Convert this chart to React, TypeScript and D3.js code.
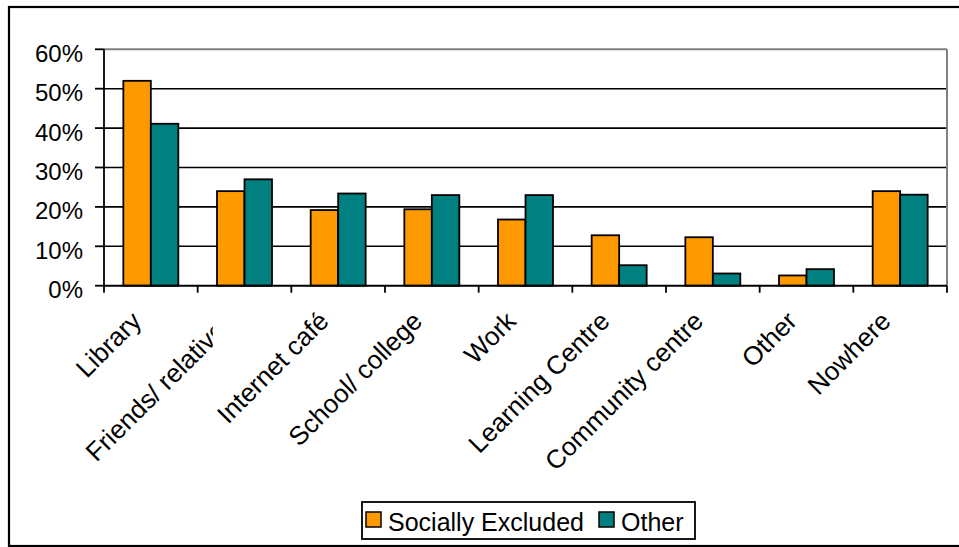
import React from "react";
import * as d3 from "d3";

// Where people accessed the internet, by group (share of respondents)
const categories = [
  "Library",
  "Friends/ relatives",
  "Internet café",
  "School/ college",
  "Work",
  "Learning Centre",
  "Community centre",
  "Other",
  "Nowhere",
];
const seriesNames = ["Socially Excluded", "Other"];
const sociallyExcluded = [0.52, 0.24, 0.192, 0.194, 0.168, 0.128, 0.123, 0.026, 0.24];
const otherGroup = [0.411, 0.27, 0.234, 0.23, 0.23, 0.052, 0.031, 0.042, 0.231];
const yTicks = [0, 0.1, 0.2, 0.3, 0.4, 0.5, 0.6];

const colors = ["#FF9900", "#008080"];
const FONT = "'Liberation Sans', Arial, Helvetica, sans-serif";

const W = 959;
const H = 547;
const plot = { left: 104, right: 947, top: 49.3, bottom: 285.7 };

export default function App() {
  const x0 = d3
    .scaleBand<string>()
    .domain(categories)
    .range([plot.left, plot.right])
    .paddingInner(0.413)
    .paddingOuter(0.2065);
  const x1 = d3
    .scaleBand<string>()
    .domain(seriesNames)
    .range([0, x0.bandwidth()]);
  const y = d3.scaleLinear().domain([0, 0.6]).range([plot.bottom, plot.top]);
  const fmt = d3.format(".0%");
  const step = x0.step();
  const values = [sociallyExcluded, otherGroup];

  const boundaries = d3.range(categories.length + 1).map((i) => plot.left + i * step);

  return (
    <svg
      width={W}
      height={H}
      viewBox={`0 0 ${W} ${H}`}
      style={{ position: "absolute", left: 0, top: 0, display: "block", background: "#fff" }}
      fontFamily={FONT}
    >
      <defs>
        {/* the long second label is cut off on its right side */}
        <clipPath id="label-clip-1">
          <rect x={0} y={0} width={x0(categories[1])! - step * 0.045} height={H} />
        </clipPath>
      </defs>

      {/* chart frame */}
      <rect x={9} y={7} width={960} height={539} fill="#fff" stroke="#000" strokeWidth={2.2} />

      {/* gridlines */}
      {yTicks.map((t) => (
        <line
          key={`g${t}`}
          x1={plot.left}
          x2={plot.right}
          y1={y(t)}
          y2={y(t)}
          stroke={t === 0.6 ? "#808080" : "#000"}
          strokeWidth={t === 0.6 ? 2 : 1.6}
        />
      ))}
      {/* plot area right border */}
      <line x1={plot.right} x2={plot.right} y1={plot.top} y2={plot.bottom} stroke="#808080" strokeWidth={2} />

      {/* bars */}
      {categories.map((c, i) => (
        <g key={c} transform={`translate(${x0(c)},0)`}>
          {seriesNames.map((s, j) => (
            <rect
              key={s}
              x={x1(s)}
              y={y(values[j][i])}
              width={x1.bandwidth()}
              height={y(0) - y(values[j][i])}
              fill={colors[j]}
              stroke="#000"
              strokeWidth={1.8}
            />
          ))}
        </g>
      ))}

      {/* y axis */}
      <line x1={plot.left} x2={plot.left} y1={plot.top} y2={plot.bottom} stroke="#000" strokeWidth={1.8} />
      {yTicks.map((t) => (
        <g key={`t${t}`}>
          <line x1={plot.left - 9} x2={plot.left} y1={y(t)} y2={y(t)} stroke="#000" strokeWidth={1.8} />
          <text x={83} y={y(t) + 12.4} textAnchor="end" fontSize={24} fill="#000">
            {fmt(t)}
          </text>
        </g>
      ))}

      {/* x axis */}
      <line x1={plot.left} x2={plot.right} y1={plot.bottom} y2={plot.bottom} stroke="#000" strokeWidth={1.8} />
      {boundaries.map((bx, i) => (
        <line key={`xt${i}`} x1={bx} x2={bx} y1={plot.bottom} y2={plot.bottom + 7} stroke="#000" strokeWidth={1.8} />
      ))}
      {categories.map((c, i) => {
        const cx = x0(c)! + x0.bandwidth() / 2;
        return (
          <g key={`l${c}`} clipPath={i === 1 ? "url(#label-clip-1)" : undefined}>
            <text
              transform={`translate(${cx - 8},${plot.bottom + 37}) rotate(-45)`}
              textAnchor="end"
              fontSize={26}
              fill="#000"
            >
              {c}
            </text>
          </g>
        );
      })}

      {/* legend */}
      <g>
        <rect x={362} y={502} width={333} height={37} fill="#fff" stroke="#000" strokeWidth={1.8} />
        {seriesNames.map((s, j) => {
          const lx = j === 0 ? 366 : 599;
          return (
            <g key={`lg${s}`}>
              <rect x={lx} y={512} width={15} height={15} fill={colors[j]} stroke="#000" strokeWidth={1.5} />
              <text x={lx + 22} y={531} fontSize={25} fill="#000">
                {s}
              </text>
            </g>
          );
        })}
      </g>
    </svg>
  );
}
